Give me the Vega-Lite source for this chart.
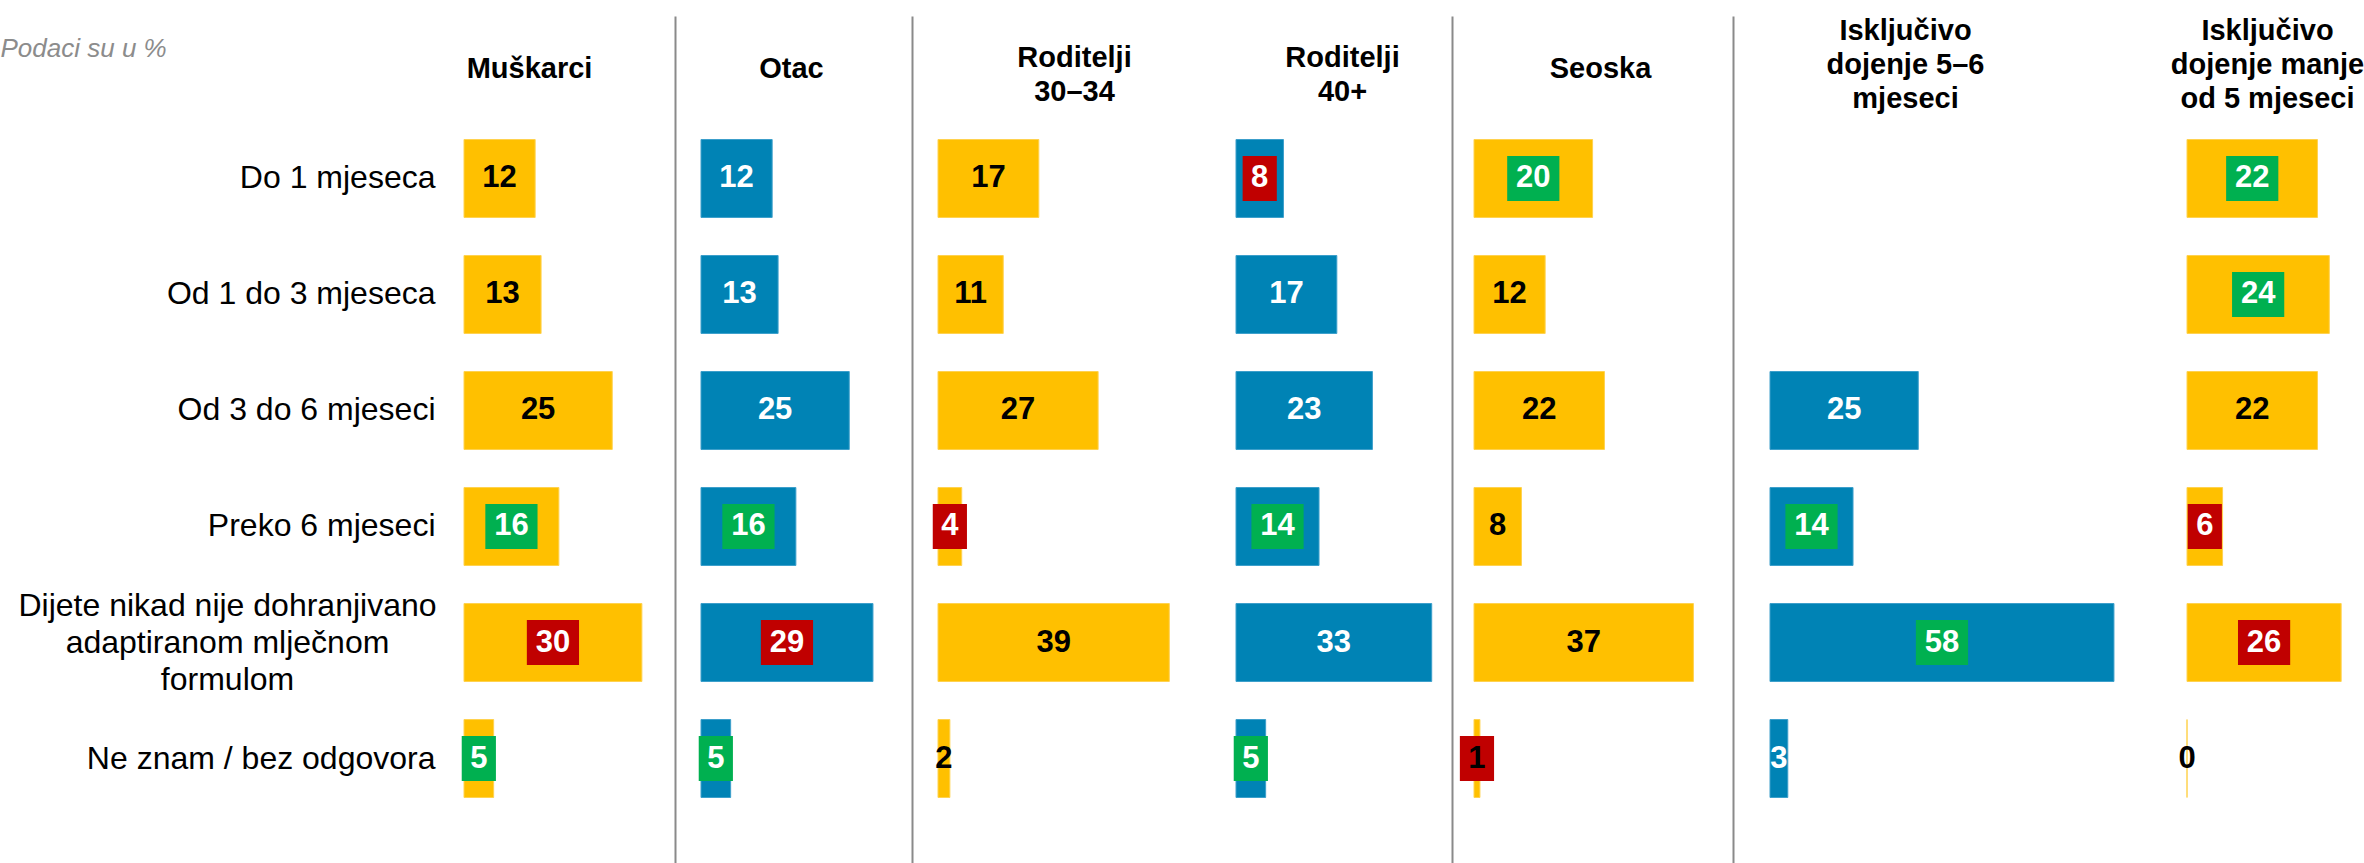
{
  "$schema": "https://vega.github.io/schema/vega-lite/v6.json",
  "padding": {"left": 0, "top": 16, "right": 0, "bottom": 0},
  "autosize": {"type": "pad"},
  "spacing": 0,
  "bounds": "flush",
  "data": {
    "values": [
      {"panel": "Muškarci", "cat": "Do 1 mjeseca", "v": 12, "sig": ""},
      {"panel": "Muškarci", "cat": "Od 1 do 3 mjeseca", "v": 13, "sig": ""},
      {"panel": "Muškarci", "cat": "Od 3 do 6 mjeseci", "v": 25, "sig": ""},
      {"panel": "Muškarci", "cat": "Preko 6 mjeseci", "v": 16, "sig": "higher"},
      {"panel": "Muškarci", "cat": "Dijete nikad nije dohranjivano adaptiranom mlječnom formulom", "v": 30, "sig": "lower"},
      {"panel": "Muškarci", "cat": "Ne znam / bez odgovora", "v": 5, "sig": "higher"},
      {"panel": "Otac", "cat": "Do 1 mjeseca", "v": 12, "sig": ""},
      {"panel": "Otac", "cat": "Od 1 do 3 mjeseca", "v": 13, "sig": ""},
      {"panel": "Otac", "cat": "Od 3 do 6 mjeseci", "v": 25, "sig": ""},
      {"panel": "Otac", "cat": "Preko 6 mjeseci", "v": 16, "sig": "higher"},
      {"panel": "Otac", "cat": "Dijete nikad nije dohranjivano adaptiranom mlječnom formulom", "v": 29, "sig": "lower"},
      {"panel": "Otac", "cat": "Ne znam / bez odgovora", "v": 5, "sig": "higher"},
      {"panel": "Roditelji 30–34", "cat": "Do 1 mjeseca", "v": 17, "sig": ""},
      {"panel": "Roditelji 30–34", "cat": "Od 1 do 3 mjeseca", "v": 11, "sig": ""},
      {"panel": "Roditelji 30–34", "cat": "Od 3 do 6 mjeseci", "v": 27, "sig": ""},
      {"panel": "Roditelji 30–34", "cat": "Preko 6 mjeseci", "v": 4, "sig": "lower"},
      {"panel": "Roditelji 30–34", "cat": "Dijete nikad nije dohranjivano adaptiranom mlječnom formulom", "v": 39, "sig": ""},
      {"panel": "Roditelji 30–34", "cat": "Ne znam / bez odgovora", "v": 2, "sig": ""},
      {"panel": "Roditelji 40+", "cat": "Do 1 mjeseca", "v": 8, "sig": "lower"},
      {"panel": "Roditelji 40+", "cat": "Od 1 do 3 mjeseca", "v": 17, "sig": ""},
      {"panel": "Roditelji 40+", "cat": "Od 3 do 6 mjeseci", "v": 23, "sig": ""},
      {"panel": "Roditelji 40+", "cat": "Preko 6 mjeseci", "v": 14, "sig": "higher"},
      {"panel": "Roditelji 40+", "cat": "Dijete nikad nije dohranjivano adaptiranom mlječnom formulom", "v": 33, "sig": ""},
      {"panel": "Roditelji 40+", "cat": "Ne znam / bez odgovora", "v": 5, "sig": "higher"},
      {"panel": "Seoska", "cat": "Do 1 mjeseca", "v": 20, "sig": "higher"},
      {"panel": "Seoska", "cat": "Od 1 do 3 mjeseca", "v": 12, "sig": ""},
      {"panel": "Seoska", "cat": "Od 3 do 6 mjeseci", "v": 22, "sig": ""},
      {"panel": "Seoska", "cat": "Preko 6 mjeseci", "v": 8, "sig": ""},
      {"panel": "Seoska", "cat": "Dijete nikad nije dohranjivano adaptiranom mlječnom formulom", "v": 37, "sig": ""},
      {"panel": "Seoska", "cat": "Ne znam / bez odgovora", "v": 1, "sig": "lower"},
      {"panel": "Isključivo 5–6", "cat": "Od 3 do 6 mjeseci", "v": 25, "sig": ""},
      {"panel": "Isključivo 5–6", "cat": "Preko 6 mjeseci", "v": 14, "sig": "higher"},
      {"panel": "Isključivo 5–6", "cat": "Dijete nikad nije dohranjivano adaptiranom mlječnom formulom", "v": 58, "sig": "higher"},
      {"panel": "Isključivo 5–6", "cat": "Ne znam / bez odgovora", "v": 3, "sig": ""},
      {"panel": "Isključivo <5", "cat": "Do 1 mjeseca", "v": 22, "sig": "higher"},
      {"panel": "Isključivo <5", "cat": "Od 1 do 3 mjeseca", "v": 24, "sig": "higher"},
      {"panel": "Isključivo <5", "cat": "Od 3 do 6 mjeseci", "v": 22, "sig": ""},
      {"panel": "Isključivo <5", "cat": "Preko 6 mjeseci", "v": 6, "sig": "lower"},
      {"panel": "Isključivo <5", "cat": "Dijete nikad nije dohranjivano adaptiranom mlječnom formulom", "v": 26, "sig": "lower"},
      {"panel": "Isključivo <5", "cat": "Ne znam / bez odgovora", "v": 0, "sig": ""}
    ]
  },
  "hconcat": [
    {
      "width": 237, "height": 847,
      "transform": [{"filter": "datum.panel == 'Muškarci'"}, {"calculate": "datum.v / 2", "as": "mid"}],
      "encoding": {
        "y": {"field": "cat", "type": "nominal",
          "scale": {"domain": ["Do 1 mjeseca", "Od 1 do 3 mjeseca", "Od 3 do 6 mjeseci", "Preko 6 mjeseci", "Dijete nikad nije dohranjivano adaptiranom mlječnom formulom", "Ne znam / bez odgovora"], "paddingInner": 0.328, "paddingOuter": 0.8147, "align": 0.6534},
          "axis": {
            "title": "Podaci su u %", "titleAngle": 0, "titleX": -464, "titleY": 32, "titleAlign": "left", "titleBaseline": "middle",
            "titleFontStyle": "italic", "titleFontWeight": "normal", "titleFontSize": 26, "titleColor": "#8C8C8C",
            "ticks": false, "domain": false, "labelFontSize": 32, "labelColor": "#000000", "labelLimit": 700, "labelLineHeight": 37,
            "labelAlign": {"condition": {"test": "datum.value == 'Dijete nikad nije dohranjivano adaptiranom mlječnom formulom'", "value": "center"}, "value": "right"},
            "labelPadding": {"condition": {"test": "datum.value == 'Dijete nikad nije dohranjivano adaptiranom mlječnom formulom'", "value": 237}, "value": 29},
            "labelOffset": {"condition": {"test": "datum.value == 'Dijete nikad nije dohranjivano adaptiranom mlječnom formulom'", "value": -37}, "value": 0},
            "labelExpr": "datum.value == 'Dijete nikad nije dohranjivano adaptiranom mlječnom formulom' ? ['Dijete nikad nije dohranjivano', 'adaptiranom mlječnom', 'formulom'] : datum.value"
          }
        }
      },
      "layer": [
        {"mark": {"type": "bar", "color": "#FFC000", "stroke": "#FFD24F", "strokeWidth": 1},
         "encoding": {"x": {"field": "v", "type": "quantitative", "scale": {"domain": [0, 39.97], "nice": false, "zero": true},
           "axis": {"orient": "top", "labels": false, "ticks": false, "domain": true, "domainOpacity": 0, "title": "Muškarci", "titleX": 65, "titleY": 52}}}},
        {"transform": [{"filter": "datum.sig != ''"}], "mark": "point",
         "encoding": {"x": {"field": "mid", "type": "quantitative",
           "axis": {"orient": "top", "labels": false, "ticks": false, "domain": true, "domainOpacity": 0, "title": "Muškarci", "titleX": 65, "titleY": 52}},
           "shape": {"condition": {"test": "datum.v < 10", "value": "M-0.76,-1L0.76,-1L0.76,1L-0.76,1Z"}, "value": "M-1.16,-1L1.16,-1L1.16,1L-1.16,1Z"},
           "color": {"field": "sig", "type": "nominal", "scale": {"domain": ["higher", "lower"], "range": ["#00B050", "#C00000"]}, "legend": null}}},
        {"mark": "text",
         "encoding": {"x": {"field": "mid", "type": "quantitative",
           "axis": {"orient": "top", "labels": false, "ticks": false, "domain": true, "domainOpacity": 0, "title": "Muškarci", "titleX": 65, "titleY": 52}},
           "text": {"field": "v", "type": "quantitative"},
           "color": {"condition": {"test": "datum.sig != '' && datum.v > 1", "value": "#FFFFFF"}, "value": "#000000"}}}
      ]
    },
    {
      "width": 237, "height": 847,
      "transform": [{"filter": "datum.panel == 'Otac'"}, {"calculate": "datum.v / 2", "as": "mid"}],
      "encoding": {
        "y": {"field": "cat", "type": "nominal",
          "scale": {"domain": ["Do 1 mjeseca", "Od 1 do 3 mjeseca", "Od 3 do 6 mjeseci", "Preko 6 mjeseci", "Dijete nikad nije dohranjivano adaptiranom mlječnom formulom", "Ne znam / bez odgovora"], "paddingInner": 0.328, "paddingOuter": 0.8147, "align": 0.6534},
          "axis": {"title": null, "labels": false, "ticks": false, "domain": true, "offset": 26}
        }
      },
      "layer": [
        {"mark": {"type": "bar", "color": "#0083B5", "stroke": "#3C9FCB", "strokeWidth": 1},
         "encoding": {"x": {"field": "v", "type": "quantitative", "scale": {"domain": [0, 39.97], "nice": false, "zero": true},
           "axis": {"orient": "top", "labels": false, "ticks": false, "domain": true, "domainOpacity": 0, "title": "Otac", "titleX": 90, "titleY": 52}}}},
        {"transform": [{"filter": "datum.sig != ''"}], "mark": "point",
         "encoding": {"x": {"field": "mid", "type": "quantitative",
           "axis": {"orient": "top", "labels": false, "ticks": false, "domain": true, "domainOpacity": 0, "title": "Otac", "titleX": 90, "titleY": 52}},
           "shape": {"condition": {"test": "datum.v < 10", "value": "M-0.76,-1L0.76,-1L0.76,1L-0.76,1Z"}, "value": "M-1.16,-1L1.16,-1L1.16,1L-1.16,1Z"},
           "color": {"field": "sig", "type": "nominal", "scale": {"domain": ["higher", "lower"], "range": ["#00B050", "#C00000"]}, "legend": null}}},
        {"mark": "text",
         "encoding": {"x": {"field": "mid", "type": "quantitative",
           "axis": {"orient": "top", "labels": false, "ticks": false, "domain": true, "domainOpacity": 0, "title": "Otac", "titleX": 90, "titleY": 52}},
           "text": {"field": "v", "type": "quantitative"},
           "color": {"value": "#FFFFFF"}}}
      ]
    },
    {
      "width": 298, "height": 847,
      "transform": [{"filter": "datum.panel == 'Roditelji 30–34'"}, {"calculate": "datum.v / 2", "as": "mid"}],
      "encoding": {
        "y": {"field": "cat", "type": "nominal",
          "scale": {"domain": ["Do 1 mjeseca", "Od 1 do 3 mjeseca", "Od 3 do 6 mjeseci", "Preko 6 mjeseci", "Dijete nikad nije dohranjivano adaptiranom mlječnom formulom", "Ne znam / bez odgovora"], "paddingInner": 0.328, "paddingOuter": 0.8147, "align": 0.6534},
          "axis": {"title": null, "labels": false, "ticks": false, "domain": true, "offset": 26}
        }
      },
      "layer": [
        {"mark": {"type": "bar", "color": "#FFC000", "stroke": "#FFD24F", "strokeWidth": 1},
         "encoding": {"x": {"field": "v", "type": "quantitative", "scale": {"domain": [0, 50.25], "nice": false, "zero": true},
           "axis": {"orient": "top", "labels": false, "ticks": false, "domain": true, "domainOpacity": 0, "title": ["Roditelji", "30–34"], "titleX": 136, "titleY": 41}}}},
        {"transform": [{"filter": "datum.sig != ''"}], "mark": "point",
         "encoding": {"x": {"field": "mid", "type": "quantitative",
           "axis": {"orient": "top", "labels": false, "ticks": false, "domain": true, "domainOpacity": 0, "title": ["Roditelji", "30–34"], "titleX": 136, "titleY": 41}},
           "shape": {"condition": {"test": "datum.v < 10", "value": "M-0.76,-1L0.76,-1L0.76,1L-0.76,1Z"}, "value": "M-1.16,-1L1.16,-1L1.16,1L-1.16,1Z"},
           "color": {"field": "sig", "type": "nominal", "scale": {"domain": ["higher", "lower"], "range": ["#00B050", "#C00000"]}, "legend": null}}},
        {"mark": "text",
         "encoding": {"x": {"field": "mid", "type": "quantitative",
           "axis": {"orient": "top", "labels": false, "ticks": false, "domain": true, "domainOpacity": 0, "title": ["Roditelji", "30–34"], "titleX": 136, "titleY": 41}},
           "text": {"field": "v", "type": "quantitative"},
           "color": {"condition": {"test": "datum.sig != '' && datum.v > 1", "value": "#FFFFFF"}, "value": "#000000"}}}
      ]
    },
    {
      "width": 238, "height": 847,
      "transform": [{"filter": "datum.panel == 'Roditelji 40+'"}, {"calculate": "datum.v / 2", "as": "mid"}],
      "encoding": {
        "y": {"field": "cat", "type": "nominal",
          "scale": {"domain": ["Do 1 mjeseca", "Od 1 do 3 mjeseca", "Od 3 do 6 mjeseci", "Preko 6 mjeseci", "Dijete nikad nije dohranjivano adaptiranom mlječnom formulom", "Ne znam / bez odgovora"], "paddingInner": 0.328, "paddingOuter": 0.8147, "align": 0.6534},
          "axis": null
        }
      },
      "layer": [
        {"mark": {"type": "bar", "color": "#0083B5", "stroke": "#3C9FCB", "strokeWidth": 1},
         "encoding": {"x": {"field": "v", "type": "quantitative", "scale": {"domain": [0, 40.13], "nice": false, "zero": true},
           "axis": {"orient": "top", "labels": false, "ticks": false, "domain": true, "domainOpacity": 0, "title": ["Roditelji", "40+"], "titleX": 106, "titleY": 41}}}},
        {"transform": [{"filter": "datum.sig != ''"}], "mark": "point",
         "encoding": {"x": {"field": "mid", "type": "quantitative",
           "axis": {"orient": "top", "labels": false, "ticks": false, "domain": true, "domainOpacity": 0, "title": ["Roditelji", "40+"], "titleX": 106, "titleY": 41}},
           "shape": {"condition": {"test": "datum.v < 10", "value": "M-0.76,-1L0.76,-1L0.76,1L-0.76,1Z"}, "value": "M-1.16,-1L1.16,-1L1.16,1L-1.16,1Z"},
           "color": {"field": "sig", "type": "nominal", "scale": {"domain": ["higher", "lower"], "range": ["#00B050", "#C00000"]}, "legend": null}}},
        {"mark": "text",
         "encoding": {"x": {"field": "mid", "type": "quantitative",
           "axis": {"orient": "top", "labels": false, "ticks": false, "domain": true, "domainOpacity": 0, "title": ["Roditelji", "40+"], "titleX": 106, "titleY": 41}},
           "text": {"field": "v", "type": "quantitative"},
           "color": {"value": "#FFFFFF"}}}
      ]
    },
    {
      "width": 296, "height": 847,
      "transform": [{"filter": "datum.panel == 'Seoska'"}, {"calculate": "datum.v / 2", "as": "mid"}],
      "encoding": {
        "y": {"field": "cat", "type": "nominal",
          "scale": {"domain": ["Do 1 mjeseca", "Od 1 do 3 mjeseca", "Od 3 do 6 mjeseci", "Preko 6 mjeseci", "Dijete nikad nije dohranjivano adaptiranom mlječnom formulom", "Ne znam / bez odgovora"], "paddingInner": 0.328, "paddingOuter": 0.8147, "align": 0.6534},
          "axis": {"title": null, "labels": false, "ticks": false, "domain": true, "offset": 22}
        }
      },
      "layer": [
        {"mark": {"type": "bar", "color": "#FFC000", "stroke": "#FFD24F", "strokeWidth": 1},
         "encoding": {"x": {"field": "v", "type": "quantitative", "scale": {"domain": [0, 49.92], "nice": false, "zero": true},
           "axis": {"orient": "top", "labels": false, "ticks": false, "domain": true, "domainOpacity": 0, "title": "Seoska", "titleX": 126, "titleY": 52}}}},
        {"transform": [{"filter": "datum.sig != ''"}], "mark": "point",
         "encoding": {"x": {"field": "mid", "type": "quantitative",
           "axis": {"orient": "top", "labels": false, "ticks": false, "domain": true, "domainOpacity": 0, "title": "Seoska", "titleX": 126, "titleY": 52}},
           "shape": {"condition": {"test": "datum.v < 10", "value": "M-0.76,-1L0.76,-1L0.76,1L-0.76,1Z"}, "value": "M-1.16,-1L1.16,-1L1.16,1L-1.16,1Z"},
           "color": {"field": "sig", "type": "nominal", "scale": {"domain": ["higher", "lower"], "range": ["#00B050", "#C00000"]}, "legend": null}}},
        {"mark": "text",
         "encoding": {"x": {"field": "mid", "type": "quantitative",
           "axis": {"orient": "top", "labels": false, "ticks": false, "domain": true, "domainOpacity": 0, "title": "Seoska", "titleX": 126, "titleY": 52}},
           "text": {"field": "v", "type": "quantitative"},
           "color": {"condition": {"test": "datum.sig != '' && datum.v > 1", "value": "#FFFFFF"}, "value": "#000000"}}}
      ]
    },
    {
      "width": 417, "height": 847,
      "transform": [{"filter": "datum.panel == 'Isključivo 5–6'"}, {"calculate": "datum.v / 2", "as": "mid"}],
      "encoding": {
        "y": {"field": "cat", "type": "nominal",
          "scale": {"domain": ["Do 1 mjeseca", "Od 1 do 3 mjeseca", "Od 3 do 6 mjeseci", "Preko 6 mjeseci", "Dijete nikad nije dohranjivano adaptiranom mlječnom formulom", "Ne znam / bez odgovora"], "paddingInner": 0.328, "paddingOuter": 0.8147, "align": 0.6534},
          "axis": {"title": null, "labels": false, "ticks": false, "domain": true, "offset": 37}
        }
      },
      "layer": [
        {"mark": {"type": "bar", "color": "#0083B5", "stroke": "#3C9FCB", "strokeWidth": 1},
         "encoding": {"x": {"field": "v", "type": "quantitative", "scale": {"domain": [0, 70.32], "nice": false, "zero": true},
           "axis": {"orient": "top", "labels": false, "ticks": false, "domain": true, "domainOpacity": 0, "title": ["Isključivo", "dojenje 5–6", "mjeseci"], "titleX": 135, "titleY": 14}}}},
        {"transform": [{"filter": "datum.sig != ''"}], "mark": "point",
         "encoding": {"x": {"field": "mid", "type": "quantitative",
           "axis": {"orient": "top", "labels": false, "ticks": false, "domain": true, "domainOpacity": 0, "title": ["Isključivo", "dojenje 5–6", "mjeseci"], "titleX": 135, "titleY": 14}},
           "shape": {"condition": {"test": "datum.v < 10", "value": "M-0.76,-1L0.76,-1L0.76,1L-0.76,1Z"}, "value": "M-1.16,-1L1.16,-1L1.16,1L-1.16,1Z"},
           "color": {"field": "sig", "type": "nominal", "scale": {"domain": ["higher", "lower"], "range": ["#00B050", "#C00000"]}, "legend": null}}},
        {"mark": "text",
         "encoding": {"x": {"field": "mid", "type": "quantitative",
           "axis": {"orient": "top", "labels": false, "ticks": false, "domain": true, "domainOpacity": 0, "title": ["Isključivo", "dojenje 5–6", "mjeseci"], "titleX": 135, "titleY": 14}},
           "text": {"field": "v", "type": "quantitative"},
           "color": {"value": "#FFFFFF"}}}
      ]
    },
    {
      "width": 177, "height": 847,
      "transform": [{"filter": "datum.panel == 'Isključivo <5'"}, {"calculate": "datum.v / 2", "as": "mid"}],
      "encoding": {
        "y": {"field": "cat", "type": "nominal",
          "scale": {"domain": ["Do 1 mjeseca", "Od 1 do 3 mjeseca", "Od 3 do 6 mjeseci", "Preko 6 mjeseci", "Dijete nikad nije dohranjivano adaptiranom mlječnom formulom", "Ne znam / bez odgovora"], "paddingInner": 0.328, "paddingOuter": 0.8147, "align": 0.6534},
          "axis": null
        }
      },
      "layer": [
        {"mark": {"type": "bar", "color": "#FFC000", "stroke": "#FFD24F", "strokeWidth": 1},
         "encoding": {"x": {"field": "v", "type": "quantitative", "scale": {"domain": [0, 29.85], "nice": false, "zero": true},
           "axis": {"orient": "top", "labels": false, "ticks": false, "domain": true, "domainOpacity": 0, "title": ["Isključivo", "dojenje manje", "od 5 mjeseci"], "titleX": 80, "titleY": 14}}}},
        {"transform": [{"filter": "datum.sig != ''"}], "mark": "point",
         "encoding": {"x": {"field": "mid", "type": "quantitative",
           "axis": {"orient": "top", "labels": false, "ticks": false, "domain": true, "domainOpacity": 0, "title": ["Isključivo", "dojenje manje", "od 5 mjeseci"], "titleX": 80, "titleY": 14}},
           "shape": {"condition": {"test": "datum.v < 10", "value": "M-0.76,-1L0.76,-1L0.76,1L-0.76,1Z"}, "value": "M-1.16,-1L1.16,-1L1.16,1L-1.16,1Z"},
           "color": {"field": "sig", "type": "nominal", "scale": {"domain": ["higher", "lower"], "range": ["#00B050", "#C00000"]}, "legend": null}}},
        {"mark": "text",
         "encoding": {"x": {"field": "mid", "type": "quantitative",
           "axis": {"orient": "top", "labels": false, "ticks": false, "domain": true, "domainOpacity": 0, "title": ["Isključivo", "dojenje manje", "od 5 mjeseci"], "titleX": 80, "titleY": 14}},
           "text": {"field": "v", "type": "quantitative"},
           "color": {"condition": {"test": "datum.sig != '' && datum.v > 1", "value": "#FFFFFF"}, "value": "#000000"}}}
      ]
    }
  ],
  "config": {
    "view": {"stroke": null},
    "font": "Liberation Sans",
    "axis": {"grid": false, "labelFont": "Liberation Sans", "titleFont": "Liberation Sans", "domainColor": "#8A8A8A", "domainWidth": 2},
    "axisTop": {"titleBaseline": "middle", "titleAlign": "center", "titleFontSize": 29, "titleFontWeight": "bold", "titleColor": "#000000", "titleLineHeight": 34, "titleAngle": 0},
    "text": {"font": "Liberation Sans", "fontSize": 31, "fontWeight": "bold", "baseline": "middle", "align": "center"},
    "point": {"filled": true, "opacity": 1, "size": 2025, "strokeWidth": 0}
  }
}
